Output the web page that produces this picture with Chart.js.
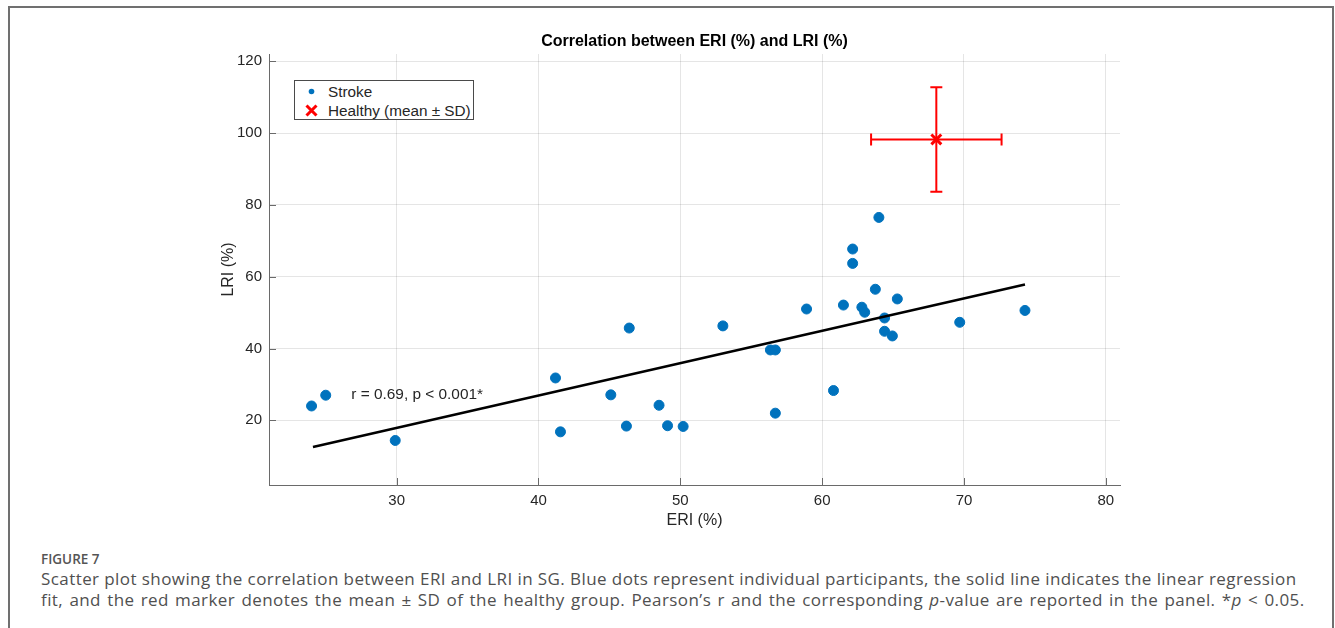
<!DOCTYPE html>
<html lang="en">
<head>
<meta charset="UTF-8">
<title>Correlation between ERI (%) and LRI (%)</title>
<script src="https://cdn.jsdelivr.net/npm/chart.js"></script>
<style>
  body { margin: 0; background: #fff; font-family: "Liberation Sans", Arial, sans-serif; }
  .frame { position: absolute; left: 8px; top: 6px; width: 1326px; height: 700px; box-sizing: border-box;
           border: 2px solid #707070; border-bottom: none; }
  #chart { position: absolute; left: 0; top: 0; }
  .legend { position: absolute; left: 294px; top: 80px; width: 180px; height: 40px; box-sizing: border-box;
            border: 1px solid #4a4a4a; background: #fff; font-size: 15.3px; color: #262626; }
  .legend .row { position: absolute; left: 0; height: 19px; line-height: 19px; white-space: nowrap; }
  .legend .mark { position: absolute; left: 10px; top: 3px; width: 13px; height: 13px; }
  .legend .txt { position: absolute; left: 33px; top: 0; }
  .figlabel { position: absolute; left: 41px; top: 550px; font: 600 13.5px "Open Sans", sans-serif; color: #555; }
  .caption { position: absolute; left: 41px; top: 568px; font: 17px/21px "Open Sans", sans-serif; letter-spacing: 0.42px;
             color: #505050; white-space: nowrap; }
  .caption .l2 { word-spacing: 1.4px; }
</style>
</head>
<body>
<div class="frame"></div>
<canvas id="chart" width="1335" height="540"></canvas>

<div class="legend">
  <div class="row" style="top:1px">
    <svg class="mark" viewBox="0 0 13 13"><circle cx="6.5" cy="6.5" r="2.8" fill="#0072BD"/></svg>
    <span class="txt">Stroke</span>
  </div>
  <div class="row" style="top:20px">
    <svg class="mark" viewBox="0 0 13 13"><path d="M1.5 1.5 L11.5 11.5 M11.5 1.5 L1.5 11.5" stroke="#FF0000" stroke-width="3"/></svg>
    <span class="txt">Healthy (mean ± SD)</span>
  </div>
</div>

<div class="figlabel">FIGURE 7</div>
<div class="caption">Scatter plot showing the correlation between ERI and LRI in SG. Blue dots represent individual participants, the solid line indicates the linear regression<br><span class="l2">fit, and the red marker denotes the mean ± SD of the healthy group. Pearson’s r and the corresponding <i>p</i>-value are reported in the panel. *<i>p</i> &lt; 0.05.</span></div>

<script>
// stroke group (one point per participant)
const strokeERI = [24.0, 25.0, 29.9, 41.2, 41.55, 45.1, 46.4, 46.2, 48.5, 49.1, 50.2, 53.0, 56.35, 56.7, 56.7,
                   58.9, 60.8, 61.5, 62.15, 62.15, 62.8, 63.0, 63.75, 64.0, 64.4, 64.4, 64.95, 65.3, 69.7, 74.3];
const strokeLRI = [24.0, 27.0, 14.4, 31.8, 16.8, 27.1, 45.7, 18.4, 24.2, 18.5, 18.3, 46.3, 39.6, 39.6, 22.0,
                   51.0, 28.3, 52.1, 67.7, 63.7, 51.5, 50.1, 56.5, 76.5, 48.5, 44.8, 43.5, 53.8, 47.3, 50.6];

// regression line end points
const fitERI = [24.1, 74.3];
const fitLRI = [12.6, 57.8];

// healthy group mean and SD
const healthyERI = [68.05];
const healthyLRI = [98.2];
const healthyERIsd = [4.6];
const healthyLRIsd = [14.55];

const xTicks = [30, 40, 50, 60, 70, 80];
const yTicks = [20, 40, 60, 80, 100, 120];

const annotationText = "r = 0.69, p < 0.001*";
const annotationAt = [26.8, 27.0];

const blue = "#0072BD";
const red = "#FF0000";
const axisColor = "#6a6a6a";
const textColor = "#262626";
const fontFamily = '"Liberation Sans", Arial, sans-serif';

const toPoints = (xs, ys) => xs.map((v, i) => ({ x: v, y: ys[i] }));

// error bars, inward tick marks and r/p text
const extras = {
    id: "extras",
    beforeDatasetsDraw(chart) {
        const { ctx, chartArea, scales: { x, y } } = chart;
        ctx.save();
        ctx.strokeStyle = axisColor;
        ctx.lineWidth = 1;
        xTicks.forEach(v => {
            const px = Math.round(x.getPixelForValue(v)) + 0.5;
            ctx.beginPath();
            ctx.moveTo(px, chartArea.bottom);
            ctx.lineTo(px, chartArea.bottom - 7);
            ctx.stroke();
        });
        yTicks.forEach(v => {
            const py = Math.round(y.getPixelForValue(v)) + 0.5;
            ctx.beginPath();
            ctx.moveTo(chartArea.left, py);
            ctx.lineTo(chartArea.left + 7, py);
            ctx.stroke();
        });

        ctx.strokeStyle = red;
        ctx.lineWidth = 2;
        const cap = 6;
        healthyERI.forEach((mx, i) => {
            const my = healthyLRI[i];
            const cx = x.getPixelForValue(mx), cy = y.getPixelForValue(my);
            const xl = x.getPixelForValue(mx - healthyERIsd[i]), xr = x.getPixelForValue(mx + healthyERIsd[i]);
            const yt = y.getPixelForValue(my + healthyLRIsd[i]), yb = y.getPixelForValue(my - healthyLRIsd[i]);
            ctx.beginPath();
            ctx.moveTo(xl, cy); ctx.lineTo(xr, cy);
            ctx.moveTo(xl, cy - cap); ctx.lineTo(xl, cy + cap);
            ctx.moveTo(xr, cy - cap); ctx.lineTo(xr, cy + cap);
            ctx.moveTo(cx, yt); ctx.lineTo(cx, yb);
            ctx.moveTo(cx - cap, yt); ctx.lineTo(cx + cap, yt);
            ctx.moveTo(cx - cap, yb); ctx.lineTo(cx + cap, yb);
            ctx.stroke();
        });
        ctx.restore();
    },
    afterDatasetsDraw(chart) {
        const { ctx, scales: { x, y } } = chart;
        ctx.save();
        ctx.fillStyle = textColor;
        ctx.font = "15.4px " + fontFamily;
        ctx.textAlign = "left";
        ctx.textBaseline = "middle";
        ctx.fillText(annotationText, x.getPixelForValue(annotationAt[0]), y.getPixelForValue(annotationAt[1]));
        ctx.restore();
    }
};

const ctx = document.getElementById("chart").getContext("2d");
new Chart(ctx, {
    type: "scatter",
    data: {
        datasets: [
            {
                label: "Stroke",
                data: toPoints(strokeERI, strokeLRI),
                backgroundColor: blue,
                borderColor: blue,
                pointRadius: 5,
                pointHoverRadius: 5,
                order: 2
            },
            {
                label: "Fit",
                type: "line",
                data: toPoints(fitERI, fitLRI),
                borderColor: "#000",
                borderWidth: 2.5,
                pointRadius: 0,
                fill: false,
                order: 1
            },
            {
                label: "Healthy (mean ± SD)",
                data: toPoints(healthyERI, healthyLRI),
                pointStyle: "crossRot",
                pointRadius: 7,
                pointHoverRadius: 7,
                borderColor: red,
                backgroundColor: red,
                pointBorderWidth: 3,
                order: 0
            }
        ]
    },
    options: {
        responsive: false,
        animation: false,
        devicePixelRatio: 1,
        layout: { padding: { left: 200, right: 215, top: 0, bottom: 0 } },
        plugins: {
            legend: { display: false },
            tooltip: { enabled: false },
            title: {
                display: true,
                fullSize: false,
                text: "Correlation between ERI (%) and LRI (%)",
                color: "#000",
                font: { family: fontFamily, size: 16, weight: "bold" },
                padding: { top: 32.4, bottom: 2.4 }
            }
        },
        scales: {
            x: {
                type: "linear",
                min: 21,
                max: 81,
                afterBuildTicks: s => { s.ticks = xTicks.map(v => ({ value: v })); },
                ticks: {
                    padding: 7,
                    color: textColor,
                    font: { family: fontFamily, size: 15 },
                    maxRotation: 0
                },
                grid: { color: "rgba(38,38,38,0.12)", drawTicks: false },
                border: { color: axisColor, width: 1 },
                title: {
                    display: true,
                    text: "ERI (%)",
                    color: textColor,
                    font: { family: fontFamily, size: 16 },
                    padding: { top: 0, bottom: 9.4 }
                },
                afterFit: s => { s.height = 55; }
            },
            y: {
                type: "linear",
                min: 2,
                max: 122,
                afterBuildTicks: s => { s.ticks = yTicks.map(v => ({ value: v })); },
                ticks: {
                    padding: 7,
                    color: textColor,
                    font: { family: fontFamily, size: 15 }
                },
                grid: { color: "rgba(38,38,38,0.12)", drawTicks: false },
                border: { color: axisColor, width: 1 },
                title: {
                    display: true,
                    text: "LRI (%)",
                    color: textColor,
                    font: { family: fontFamily, size: 16 },
                    padding: { top: 18.5, bottom: 0 }
                },
                afterFit: s => { s.width = 69; }
            }
        }
    },
    plugins: [extras]
});
</script>
</body>
</html>
